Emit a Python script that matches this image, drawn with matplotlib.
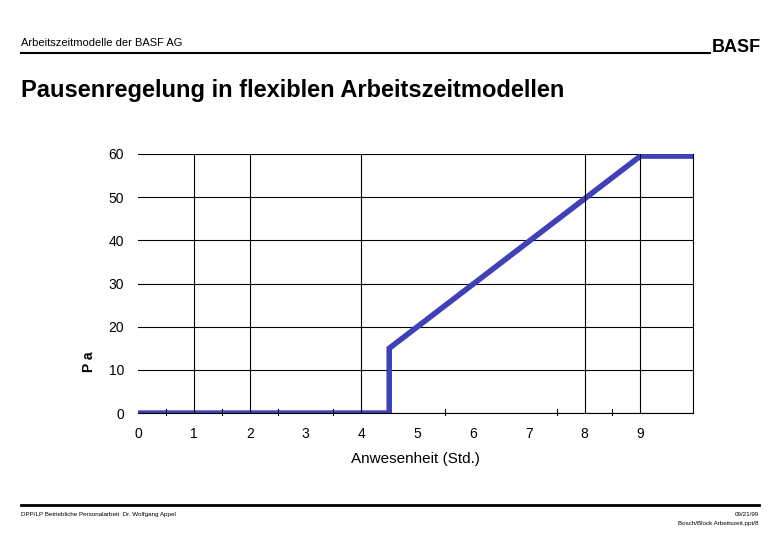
import matplotlib
matplotlib.use("Agg")
from matplotlib import pyplot as plt

# Pausenregelung: Anwesenheit (Std.) -> Pause (min)
HOURS = [0, 4.5, 4.5, 9, 9.95]
PAUSE = [0, 0, 15, 59.5, 59.5]
XTICKS = [0, 1, 2, 3, 4, 5, 6, 7, 8, 9]
YTICKS = [0, 10, 20, 30, 40, 50, 60]
VGRID = [1, 2, 4, 8, 9]
SMALL_TICKS = [0.5, 1.5, 2.5, 3.5, 5.5, 7.5, 8.5]

plt.rcParams['font.family'] = ['Liberation Sans', 'DejaVu Sans']
fig = plt.figure(figsize=(7.8, 5.4), dpi=100)

fig.text(0.027, 0.915, "Arbeitszeitmodelle der BASF AG", fontsize=8)
fig.text(0.975, 0.903, "BASF", fontsize=13, fontweight='bold', ha='right')
fig.add_artist(plt.Line2D([0.027, 0.91], [0.902, 0.902], color='black', lw=1.5))
fig.text(0.027, 0.82, "Pausenregelung in flexiblen Arbeitszeitmodellen",
         fontsize=17, fontweight='bold')

ax = fig.add_axes([0.177, 0.235, 0.712, 0.48])
ax.plot(HOURS, PAUSE, color='#4040B8', lw=4, solid_joinstyle='miter')
ax.set_xlim(0, 9.95)
ax.set_ylim(0, 60)
ax.set_xticks(XTICKS)
ax.set_yticks(YTICKS)
ax.yaxis.grid(True, color='black', lw=0.8)
for x in VGRID:
    ax.axvline(x, color='black', lw=0.8)
for x in SMALL_TICKS:
    ax.plot([x, x], [-0.5, 1.0], color='black', lw=0.8, clip_on=False)
for s in ['top', 'left']:
    ax.spines[s].set_visible(False)
ax.spines['right'].set_linewidth(0.8)
ax.spines['bottom'].set_linewidth(0.8)
ax.tick_params(length=0, labelsize=10, pad=10)
ax.set_xlabel("Anwesenheit (Std.)", fontsize=11, labelpad=8)
ax.set_ylabel("P a", fontsize=10, fontweight='bold')
ax.yaxis.set_label_coords(-0.075, 0.2)

fig.add_artist(plt.Line2D([0.027, 0.973], [0.065, 0.065], color='black', lw=2))
fig.text(0.027, 0.045, "DPP/LP Betriebliche Personalarbeit  Dr. Wolfgang Appel", fontsize=4.5)
fig.text(0.973, 0.045, "09/21/99", fontsize=4.5, ha='right')
fig.text(0.973, 0.028, "Bosch/Block Arbeitszeit.ppt/8", fontsize=4.5, ha='right')

fig.savefig("out.png")
